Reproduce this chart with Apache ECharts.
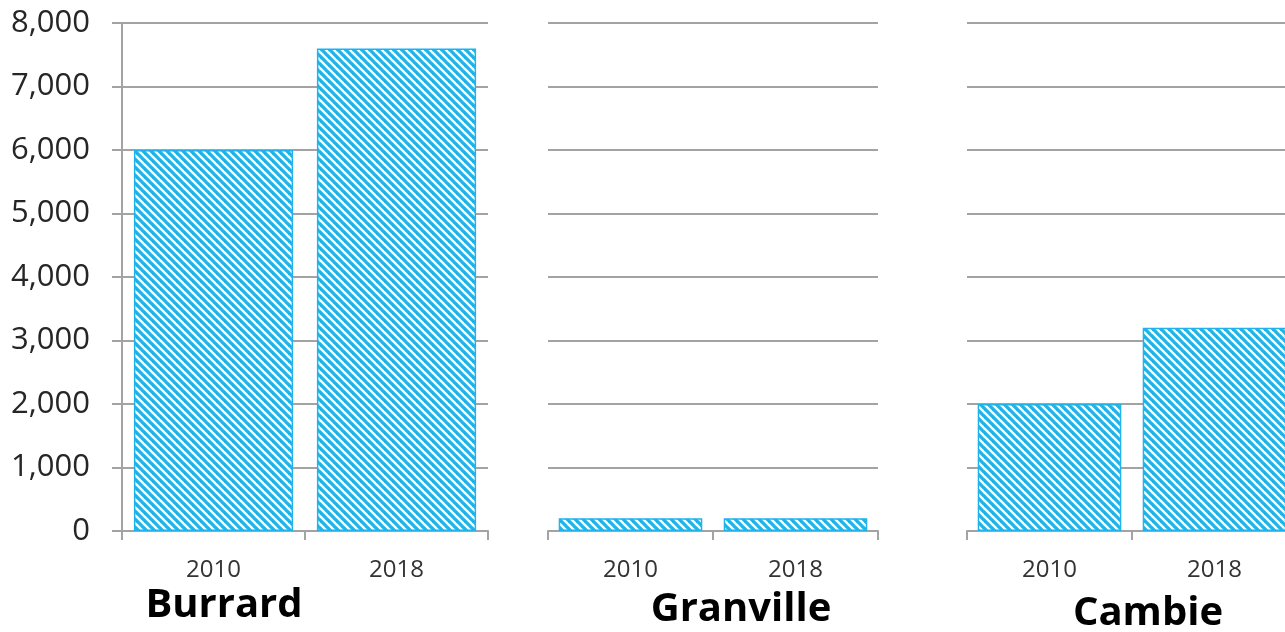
<!DOCTYPE html>
<html>
<head>
<meta charset="utf-8">
<script src="https://cdn.jsdelivr.net/npm/echarts@6/dist/echarts.min.js"></script>
<style>
html,body{margin:0;padding:0;background:#fff;}
#chart{width:1285px;height:632px;}
</style>
</head>
<body>
<div id="chart"></div>
<script>
// ---- data ----
const years = ['2010', '2018'];
const groups = ['Burrard', 'Granville', 'Cambie'];
const burrard = [6000, 7600];
const granville = [200, 200];
const cambie = [2000, 3200];
const yTicks = [0, 1000, 2000, 3000, 4000, 5000, 6000, 7000, 8000];

const seriesValues = [burrard, granville, cambie];

// hatch pattern
function makePattern() {
  const p = 8;
  const c = document.createElement('canvas');
  c.width = p; c.height = p;
  const ctx = c.getContext('2d');
  ctx.fillStyle = '#ffffff';
  ctx.fillRect(0, 0, p, p);
  ctx.strokeStyle = '#1fb3ea';
  ctx.lineWidth = 3.3;
  for (let k = -p; k <= p; k += p) {
    ctx.beginPath();
    ctx.moveTo(k - 1, -1);
    ctx.lineTo(k + p + 1, p + 1);
    ctx.stroke();
  }
  return c;
}
const pattern = { image: makePattern(), repeat: 'repeat' };

const gridColor = '#a3a3a3';
const gridDefs = [
  { left: 122, top: 23, width: 366, height: 508, outerBoundsMode: 'none', containLabel: false },
  { left: 548, top: 23, width: 330, height: 508, outerBoundsMode: 'none', containLabel: false },
  { left: 967, top: 23, width: 330, height: 508, outerBoundsMode: 'none', containLabel: false }
];
const titleX = [224, 741, 1148];
const titleY = [606, 610, 614];

const option = {
  animation: false,
  backgroundColor: '#ffffff',
  grid: gridDefs,
  xAxis: gridDefs.map((g, i) => ({
    type: 'category',
    gridIndex: i,
    data: years,
    axisLine: { show: true, lineStyle: { color: gridColor, width: 2 } },
    axisTick: { show: true, length: 9, lineStyle: { color: gridColor, width: 2 } },
    axisLabel: { margin: 27, fontSize: 24, color: '#333333', fontFamily: 'Open Sans' },
    splitLine: { show: false }
  })),
  yAxis: gridDefs.map((g, i) => ({
    type: 'value',
    gridIndex: i,
    min: yTicks[0],
    max: yTicks[yTicks.length - 1],
    interval: yTicks[1] - yTicks[0],
    axisLine: { show: i === 0, lineStyle: { color: gridColor, width: 2 } },
    axisTick: { show: i === 0, length: 10, lineStyle: { color: gridColor, width: 2 } },
    axisLabel: {
      show: i === 0,
      margin: 32,
      fontSize: 31,
      color: '#262626',
      fontFamily: 'Open Sans',
      formatter: v => v.toLocaleString('en-US')
    },
    splitLine: { show: true, lineStyle: { color: gridColor, width: 2 } }
  })),
  series: seriesValues.map((vals, i) => ({
    type: 'bar',
    name: groups[i],
    xAxisIndex: i,
    yAxisIndex: i,
    data: vals,
    barCategoryGap: '13%',
    itemStyle: { color: pattern, borderColor: '#1fb3ea', borderWidth: 1.5 }
  })),
  graphic: groups.map((name, i) => ({
    type: 'text',
    x: titleX[i],
    y: titleY[i],
    style: {
      text: name,
      font: 'bold 40px "Open Sans"',
      fill: '#000000',
      textAlign: 'center',
      textVerticalAlign: 'middle'
    }
  }))
};

const chart = echarts.init(document.getElementById('chart'), null, { renderer: 'canvas' });
chart.setOption(option);
</script>
</body>
</html>
